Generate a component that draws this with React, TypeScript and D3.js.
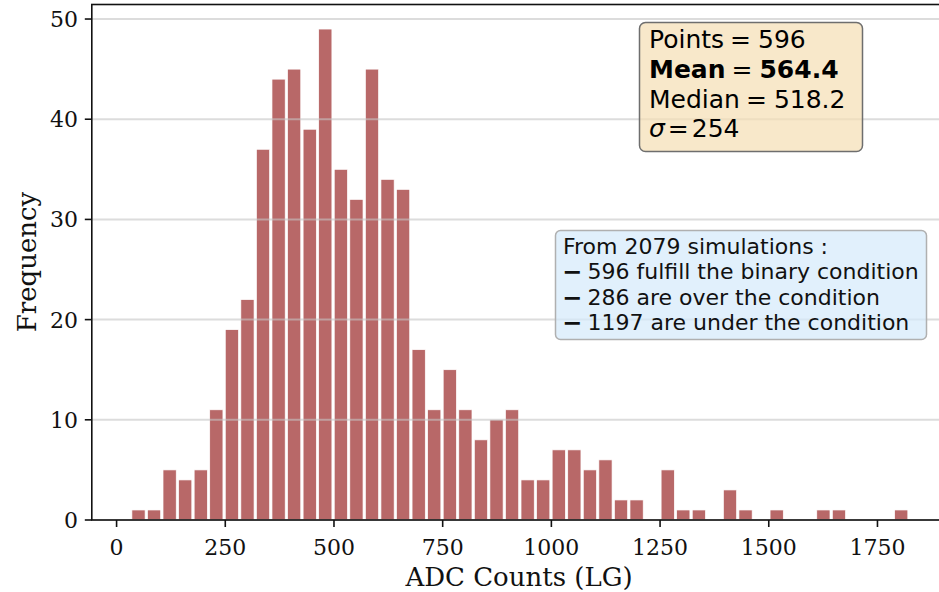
import React from 'react';
import * as d3 from 'd3';

// Histogram counts (50 equal bins)
const counts = [1, 1, 5, 4, 5, 11, 19, 22, 37, 44, 45, 39, 49, 35, 32, 45, 34, 33, 17, 11, 15, 11, 8, 10, 11,
  4, 4, 7, 7, 5, 6, 2, 2, 0, 5, 1, 1, 0, 3, 1, 0, 1, 0, 0, 1, 1, 0, 0, 0, 1];
const dataMin = 32.5;
const dataMax = 1822.5;
const xTicks = [0, 250, 500, 750, 1000, 1250, 1500, 1750];
const yTicks = [0, 10, 20, 30, 40, 50];
const statLabels = ['Points', 'Mean', 'Median', 'σ'];
const statValues = ['596', '564.4', '518.2', '254'];
const infoTitle = 'From 2079 simulations :';
const infoLines = ['596 fulfill the binary condition', '286 are over the condition', '1197 are under the condition'];

export default function App() {
  const W = 939, H = 592;
  const left = 91.8, right = 947.9, top = 4.5, bottom = 520;
  const span = dataMax - dataMin;
  const x = d3.scaleLinear().domain([dataMin - 0.05 * span, dataMax + 0.05 * span]).range([left, right]);
  const ymax = d3.max(counts)! * 1.05;
  const y = d3.scaleLinear().domain([0, ymax]).range([bottom, top]);
  const nb = counts.length;
  const edges = d3.range(nb + 1).map(i => dataMin + (i * span) / nb);
  const rw = 0.85;

  const serif = "'DejaVu Serif', serif";
  const sans = "'DejaVu Sans', sans-serif";

  const statBase = [48, 78, 107.5, 137];

  return (
    <svg width={W} height={H} style={{ position: 'absolute', left: 0, top: 0, background: '#fff' }}
      xmlns="http://www.w3.org/2000/svg">
      {/* bars */}
      {counts.map((c, i) => {
        const x0 = x(edges[i]);
        const x1 = x(edges[i + 1]);
        const bw = (x1 - x0) * rw;
        const bx = x0 + ((x1 - x0) * (1 - rw)) / 2;
        if (c === 0) return null;
        return (
          <rect key={i} x={bx} y={y(c)} width={bw} height={y(0) - y(c)}
            fill="#b86868" stroke="#fff" strokeWidth={0.7} />
        );
      })}
      {/* grid */}
      {yTicks.map(t => (
        <line key={t} x1={left} x2={W} y1={y(t)} y2={y(t)} stroke="#c4c4c4" strokeOpacity={0.6} strokeWidth={2} />
      ))}
      {/* stats box */}
      <rect x={639.5} y={22.5} width={223} height={129} rx={6} ry={6}
        fill="#f5deb3" fillOpacity={0.7} stroke="#6e6e6e" strokeWidth={1.5} />
      {statLabels.map((lab, i) => {
        const bold = i === 1;
        const sig = i === 3;
        return (
          <text key={i} x={649} y={statBase[i]} fontFamily={sans} fontSize={25} fill="#000"
            style={{ whiteSpace: 'pre' }}>
            <tspan fontWeight={bold ? 'bold' : 'normal'} fontStyle={sig ? 'italic' : 'normal'}>{lab}</tspan>
            <tspan dx={sig ? 3 : 6}>=</tspan>
            <tspan dx={sig ? 3 : 7} fontWeight={bold ? 'bold' : 'normal'}>{statValues[i]}</tspan>
          </text>
        );
      })}
      {/* info box */}
      <rect x={555.5} y={230.5} width={371} height={109} rx={5} ry={5}
        fill="#d4eafb" fillOpacity={0.7} stroke="#b0b0b0" strokeWidth={1.5} />
      <g fontFamily={sans} fontSize={22} fill="#111">
        <text x={563} y={253.5}>{infoTitle}</text>
        {infoLines.map((s, i) => (
          <g key={i}>
            <text x={562} y={280 + i * 25.5} fontWeight="bold" fontSize={24}>−</text>
            <text x={587.5} y={279 + i * 25.5}>{s}</text>
          </g>
        ))}
      </g>
      {/* spines */}
      <rect x={left} y={top} width={right - left} height={bottom - top} fill="none" stroke="#111" strokeWidth={1.6} />
      {/* x ticks */}
      {xTicks.map(t => (
        <g key={t}>
          <line x1={x(t)} x2={x(t)} y1={bottom} y2={bottom + 7} stroke="#111" strokeWidth={1.6} />
          <text x={x(t)} y={555} textAnchor="middle" fontFamily={serif} fontSize={22} fill="#111">{t}</text>
        </g>
      ))}
      {/* y ticks */}
      {yTicks.map(t => (
        <g key={t}>
          <line x1={left - 7} x2={left} y1={y(t)} y2={y(t)} stroke="#111" strokeWidth={1.6} />
          <text x={78} y={y(t) + 8} textAnchor="end" fontFamily={serif} fontSize={22} fill="#111">{t}</text>
        </g>
      ))}
      <text x={519} y={586} textAnchor="middle" fontFamily={serif} fontSize={26} fill="#111">ADC Counts (LG)</text>
      <text transform={`translate(36,262) rotate(-90)`} textAnchor="middle" fontFamily={serif} fontSize={26} fill="#111">Frequency</text>
    </svg>
  );
}
